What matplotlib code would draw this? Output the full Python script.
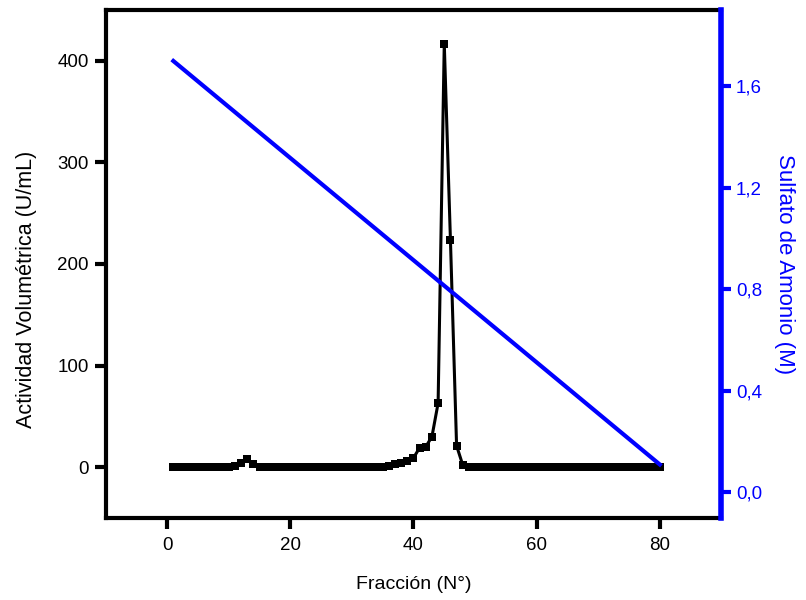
import matplotlib.pyplot as plt
import numpy as np

plt.rcParams['font.family'] = ['Liberation Sans', 'DejaVu Sans']

# fracciones 1..80
fraccion = list(range(1, 81))

# actividad volumetrica (U/mL)
actividad = ([0] * 10 +                      # 1-10
             [1, 4, 8, 3] +                  # 11-14
             [0] * 20 +                      # 15-34
             [0, 1, 3, 4, 6, 9, 19, 20, 30, 63, 417, 224, 21, 2] +  # 35-48
             [0] * 32)                       # 49-80

# gradiente de sulfato de amonio (M)
sulfato_x = [1, 80]
sulfato_y = [1.70, 0.11]

fig, ax = plt.subplots(figsize=(8.06, 6.0), dpi=100)
fig.subplots_adjust(left=0.131, right=0.895, top=0.983, bottom=0.137)

ax.plot(fraccion, actividad, color='black', lw=2.2, marker='s', ms=5.8,
        markeredgewidth=0, zorder=3)
ax.set_xlim(-10, 90)
ax.set_ylim(-50, 450)
ax.set_xticks([0, 20, 40, 60, 80])
ax.set_yticks([0, 100, 200, 300, 400])
ax.set_xlabel('Fracción (N°)', fontsize=14, labelpad=16)
ax.set_ylabel('Actividad Volumétrica (U/mL)', fontsize=15.5)
ax.yaxis.set_label_coords(-0.112, 0.45)
ax.tick_params(axis='x', labelsize=13.5, width=3, length=8, pad=6)
ax.tick_params(axis='y', labelsize=13.5, width=3, length=8, pad=4)
for s in ['left', 'bottom', 'top']:
    ax.spines[s].set_linewidth(3)
ax.spines['right'].set_visible(False)

ax2 = ax.twinx()
ax2.plot(sulfato_x, sulfato_y, color='blue', lw=3, zorder=2)
ax2.set_ylim(-0.1, 1.9)
ax2.set_yticks([0.0, 0.4, 0.8, 1.2, 1.6])
ax2.set_yticklabels(['0,0', '0,4', '0,8', '1,2', '1,6'])
ax2.set_ylabel('Sulfato de Amonio (M)', fontsize=16, color='blue',
               rotation=270, labelpad=24)
ax2.tick_params(axis='y', labelsize=13.5, width=3, length=7, colors='blue')
ax2.spines['right'].set_color('blue')
ax2.spines['right'].set_linewidth(4)
for s in ['left', 'bottom', 'top']:
    ax2.spines[s].set_visible(False)

plt.savefig('out.png', dpi=100)
